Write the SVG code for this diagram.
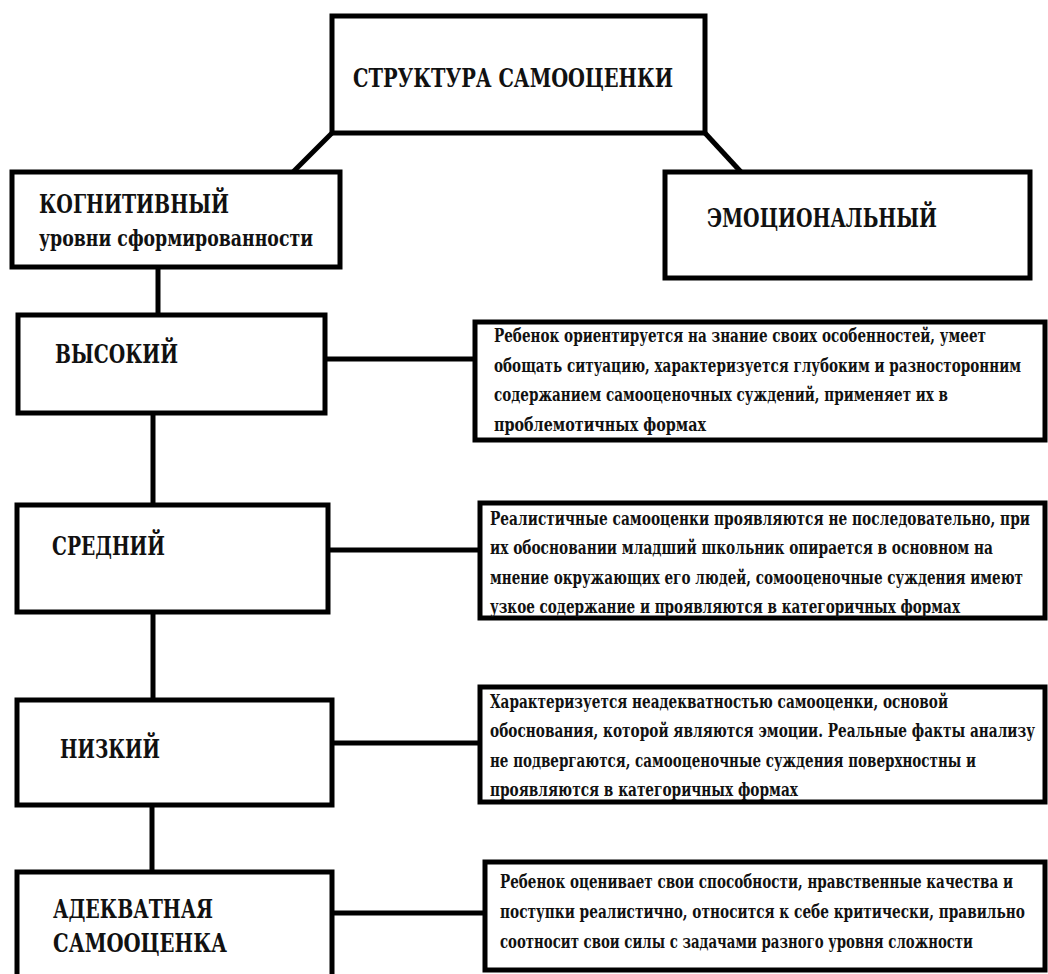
<svg xmlns="http://www.w3.org/2000/svg" width="1048" height="974" viewBox="0 0 1048 974">
<style>
.box{fill:#fff;stroke:#000;stroke-width:5}
.ln{stroke:#000;stroke-width:5;fill:none}
.h,.t,.s,.d{font-family:'DejaVu Serif','Liberation Serif',serif;font-weight:bold;fill:#111}
.h{font-size:26px}
.t{font-size:19px}
.s{font-size:17px}
.d{font-size:14px}
</style>
<rect width="1048" height="974" fill="#fff"/>
<g id="connectors">
<line class="ln" x1="332" y1="133" x2="293" y2="172"/>
<line class="ln" x1="705" y1="133" x2="741" y2="172"/>
<line class="ln" x1="158" y1="267" x2="158" y2="315"/>
<line class="ln" x1="153" y1="413" x2="153" y2="505"/>
<line class="ln" x1="153" y1="612" x2="153" y2="700"/>
<line class="ln" x1="152" y1="805" x2="152" y2="872"/>
<line class="ln" x1="325" y1="359" x2="475" y2="359"/>
<line class="ln" x1="328" y1="550" x2="480" y2="550"/>
<line class="ln" x1="332" y1="743" x2="480" y2="743"/>
<line class="ln" x1="332" y1="913" x2="485" y2="913"/>
</g>
<g id="root">
<rect class="box" x="332" y="16" width="373" height="117"/>
<text class="t" transform="translate(353,87) scale(1,1.37)" textLength="320" lengthAdjust="spacingAndGlyphs">СТРУКТУРА САМООЦЕНКИ</text>
</g>
<g id="cognitive">
<rect class="box" x="12" y="172" width="328" height="95"/>
<text class="h" x="39" y="213" textLength="190" lengthAdjust="spacingAndGlyphs">КОГНИТИВНЫЙ</text>
<text class="s" transform="translate(39,246) scale(1,1.35)" textLength="274" lengthAdjust="spacingAndGlyphs">уровни сформированности</text>
</g>
<g id="emotional">
<rect class="box" x="665" y="172" width="365" height="106"/>
<text class="h" x="707" y="227" textLength="230" lengthAdjust="spacingAndGlyphs">ЭМОЦИОНАЛЬНЫЙ</text>
</g>
<g id="high">
<rect class="box" x="18" y="315" width="307" height="98"/>
<text class="h" x="55" y="363" textLength="123" lengthAdjust="spacingAndGlyphs">ВЫСОКИЙ</text>
</g>
<g id="high-desc">
<rect class="box" x="475" y="322" width="570" height="118"/>
<text class="d" transform="translate(494,342) scale(1,1.36)" textLength="492" lengthAdjust="spacingAndGlyphs">Ребенок ориентируется на знание своих особенностей, умеет</text>
<text class="d" transform="translate(494,372) scale(1,1.36)" textLength="527" lengthAdjust="spacingAndGlyphs">обощать ситуацию, характеризуется глубоким и разносторонним</text>
<text class="d" transform="translate(494,401) scale(1,1.36)" textLength="454" lengthAdjust="spacingAndGlyphs">содержанием самооценочных суждений, применяет их в</text>
<text class="d" transform="translate(494,431) scale(1,1.36)" textLength="212" lengthAdjust="spacingAndGlyphs">проблемотичных формах</text>
</g>
<g id="medium">
<rect class="box" x="17" y="505" width="311" height="107"/>
<text class="h" x="52" y="555" textLength="113" lengthAdjust="spacingAndGlyphs">СРЕДНИЙ</text>
</g>
<g id="medium-desc">
<rect class="box" x="480" y="503" width="565" height="115"/>
<text class="d" transform="translate(490,525) scale(1,1.36)" textLength="540" lengthAdjust="spacingAndGlyphs">Реалистичные самооценки проявляются не последовательно, при</text>
<text class="d" transform="translate(490,554) scale(1,1.36)" textLength="503" lengthAdjust="spacingAndGlyphs">их обосновании младший школьник опирается в основном на</text>
<text class="d" transform="translate(490,584) scale(1,1.36)" textLength="533" lengthAdjust="spacingAndGlyphs">мнение окружающих его людей, сомооценочные суждения имеют</text>
<text class="d" transform="translate(490,613) scale(1,1.36)" textLength="470" lengthAdjust="spacingAndGlyphs">узкое содержание и проявляются в категоричных формах</text>
</g>
<g id="low">
<rect class="box" x="17" y="700" width="315" height="105"/>
<text class="h" x="60" y="758" textLength="100" lengthAdjust="spacingAndGlyphs">НИЗКИЙ</text>
</g>
<g id="low-desc">
<rect class="box" x="480" y="687" width="565" height="115"/>
<text class="d" transform="translate(490,708) scale(1,1.36)" textLength="458" lengthAdjust="spacingAndGlyphs">Характеризуется неадекватностью самооценки, основой</text>
<text class="d" transform="translate(490,737) scale(1,1.36)" textLength="545" lengthAdjust="spacingAndGlyphs">обоснования, которой являются эмоции. Реальные факты анализу</text>
<text class="d" transform="translate(490,767) scale(1,1.36)" textLength="486" lengthAdjust="spacingAndGlyphs">не подвергаются, самооценочные суждения поверхностны и</text>
<text class="d" transform="translate(490,796) scale(1,1.36)" textLength="308" lengthAdjust="spacingAndGlyphs">проявляются в категоричных формах</text>
</g>
<g id="adequate">
<rect class="box" x="17" y="872" width="315" height="125"/>
<text class="h" x="53" y="918" textLength="160" lengthAdjust="spacingAndGlyphs">АДЕКВАТНАЯ</text>
<text class="h" x="53" y="952" textLength="174" lengthAdjust="spacingAndGlyphs">САМООЦЕНКА</text>
</g>
<g id="adequate-desc">
<rect class="box" x="485" y="862" width="560" height="108"/>
<text class="d" transform="translate(500,888) scale(1,1.36)" textLength="513" lengthAdjust="spacingAndGlyphs">Ребенок оценивает свои способности, нравственные качества и</text>
<text class="d" transform="translate(500,918) scale(1,1.36)" textLength="525" lengthAdjust="spacingAndGlyphs">поступки реалистично, относится к себе критически, правильно</text>
<text class="d" transform="translate(500,948) scale(1,1.36)" textLength="473" lengthAdjust="spacingAndGlyphs">соотносит свои силы с задачами разного уровня сложности</text>
</g>
</svg>
